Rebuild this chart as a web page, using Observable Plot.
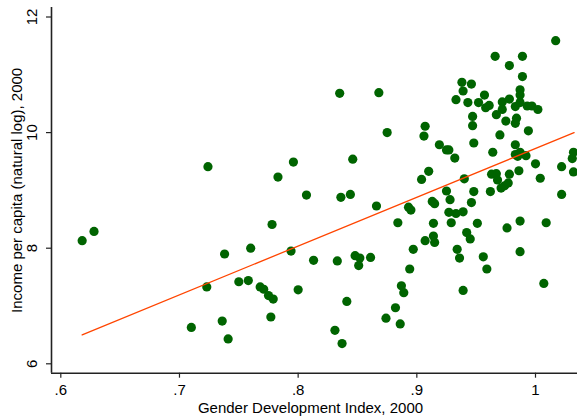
<!DOCTYPE html>
<html><head><meta charset="utf-8">
<script src="https://cdn.jsdelivr.net/npm/d3@7"></script>
<script src="https://cdn.jsdelivr.net/npm/@observablehq/plot@0.6"></script>
<style>html,body{margin:0;padding:0;background:#fff;}</style>
</head><body><div id="chart"></div>
<script>
// Gender Development Index, 2000 (x) and log income per capita, 2000 (y)
const gdi = [
  0.618, 0.628, 0.724, 0.783, 0.796, 0.807, 0.778, 0.738, 0.760, 0.794,
  0.813, 0.723, 0.750, 0.758, 0.768, 0.771, 0.775, 0.779, 0.800, 0.777,
  0.710, 0.736, 0.741, 0.836, 0.844, 0.866, 0.893, 0.895, 0.925, 0.928,
  0.913, 0.915, 0.927, 0.929, 0.914, 0.884, 0.907, 0.914, 0.915, 0.897,
  0.894, 0.833, 0.848, 0.852, 0.851, 0.861, 0.887, 0.889, 0.841, 0.882,
  0.874, 0.886, 0.831, 0.837, 0.835, 0.868, 0.875, 0.907, 0.906, 0.846,
  0.910, 0.904, 1.017, 0.966, 0.989, 0.978, 0.989, 0.938, 0.946, 0.939,
  0.957, 0.987, 0.987, 0.933, 0.943, 0.952, 0.961, 0.958, 0.972, 0.978,
  0.972, 0.983, 0.987, 0.993, 0.997, 1.002, 0.967, 0.947, 0.984, 0.975,
  0.983, 0.947, 0.994, 0.970, 0.919, 0.925, 0.927, 0.948, 0.932, 0.983,
  0.964, 0.983, 0.987, 0.992, 1.000, 1.032, 1.031, 1.022, 1.032, 0.940,
  0.963, 0.967, 0.968, 0.978, 0.986, 1.004, 1.022, 0.971, 0.974, 0.977,
  0.962, 0.948, 0.946, 0.933, 0.939, 0.951, 0.976, 0.987, 1.009, 0.942,
  0.945, 0.934, 0.936, 0.956, 0.959, 0.987, 1.007, 0.939, 0.985
];
const income = [
  8.13, 8.29, 9.41, 9.23, 9.49, 8.92, 8.41, 7.90, 8.00, 7.95,
  7.79, 7.33, 7.42, 7.44, 7.33, 7.29, 7.18, 7.12, 7.28, 6.81,
  6.63, 6.74, 6.43, 8.88, 8.93, 8.73, 8.71, 8.66, 8.99, 8.84,
  8.81, 8.77, 8.62, 8.44, 8.43, 8.44, 8.13, 8.21, 8.10, 7.98,
  7.64, 7.78, 7.87, 7.83, 7.70, 7.84, 7.35, 7.23, 7.08, 6.97,
  6.79, 6.69, 6.58, 6.35, 10.68, 10.69, 10.00, 10.11, 9.94, 9.54,
  9.33, 9.19, 11.59, 11.32, 11.32, 11.16, 10.97, 10.87, 10.84, 10.72,
  10.65, 10.74, 10.65, 10.57, 10.52, 10.52, 10.47, 10.43, 10.53, 10.58,
  10.40, 10.45, 10.52, 10.46, 10.46, 10.40, 10.31, 10.28, 10.25, 10.20,
  10.16, 10.12, 10.03, 9.96, 9.79, 9.70, 9.70, 9.82, 9.56, 9.79,
  9.66, 9.62, 9.66, 9.60, 9.46, 9.66, 9.55, 9.41, 9.32, 9.20,
  9.28, 9.29, 9.18, 9.28, 9.34, 9.21, 8.93, 9.04, 9.08, 9.13,
  8.98, 8.98, 8.79, 8.60, 8.63, 8.43, 8.35, 8.47, 8.44, 8.27,
  8.16, 7.98, 7.83, 7.85, 7.64, 7.94, 7.39, 7.27, 9.59
];
// Linear fit endpoints
const fitX = [0.618, 1.0325];
const fitY = [6.50, 10.00];

const xTicks = [0.6, 0.7, 0.8, 0.9, 1];
const yTicks = [6, 8, 10, 12];
const xTitle = "Gender Development Index, 2000";
const yTitle = "Income per capita (natural log), 2000";

const xDomain = [0.59216, 1.03539];
const yDomain = [5.8374, 12.1644];

const points = gdi.map((x, i) => ({x, y: income[i]}));
const fit = fitX.map((x, i) => ({x, y: fitY[i]}));

const fmtX = d => d === 1 ? "1" : String(d).replace(/^0/, "");
const fmtY = d => String(d);

const chart = Plot.plot({
  width: 577,
  height: 417,
  marginLeft: 51,
  marginRight: 0,
  marginTop: 7,
  marginBottom: 44.3,
  style: {fontFamily: "'Liberation Sans', Arial, sans-serif", fontSize: "15px", background: "#fff", color: "#000", overflow: "visible"},
  x: {domain: xDomain},
  y: {domain: yDomain},
  marks: [
    Plot.dot(points, {x: "x", y: "y", r: 4.6, fill: "#006400", stroke: "none"}),
    Plot.line(fit, {x: "x", y: "y", stroke: "#ff4500", strokeWidth: 1.3}),
    Plot.axisX({ticks: xTicks, tickFormat: fmtX, tickSize: 5, tickPadding: 6, label: null, fontSize: 15, strokeWidth: 1.2, stroke: "#222"}),
    Plot.axisY({ticks: yTicks, tickFormat: fmtY, tickRotate: -90, tickSize: 5, tickPadding: 10, label: null, fontSize: 15, strokeWidth: 1.2, stroke: "#222"}),
    Plot.ruleX([xDomain[0]], {stroke: "#222", strokeWidth: 1.6}),
    Plot.ruleY([yDomain[0]], {stroke: "#222", strokeWidth: 1.6}),
    Plot.text([xTitle], {frameAnchor: "bottom", dy: 39.5, dx: -4, lineAnchor: "bottom", textAnchor: "middle", fontSize: 15, fill: "#000"}),
    Plot.text([yTitle], {frameAnchor: "left", dx: -34, rotate: -90, lineAnchor: "middle", textAnchor: "middle", fontSize: 15, fill: "#000"})
  ]
});
document.getElementById("chart").appendChild(chart);
</script>
</body></html>
